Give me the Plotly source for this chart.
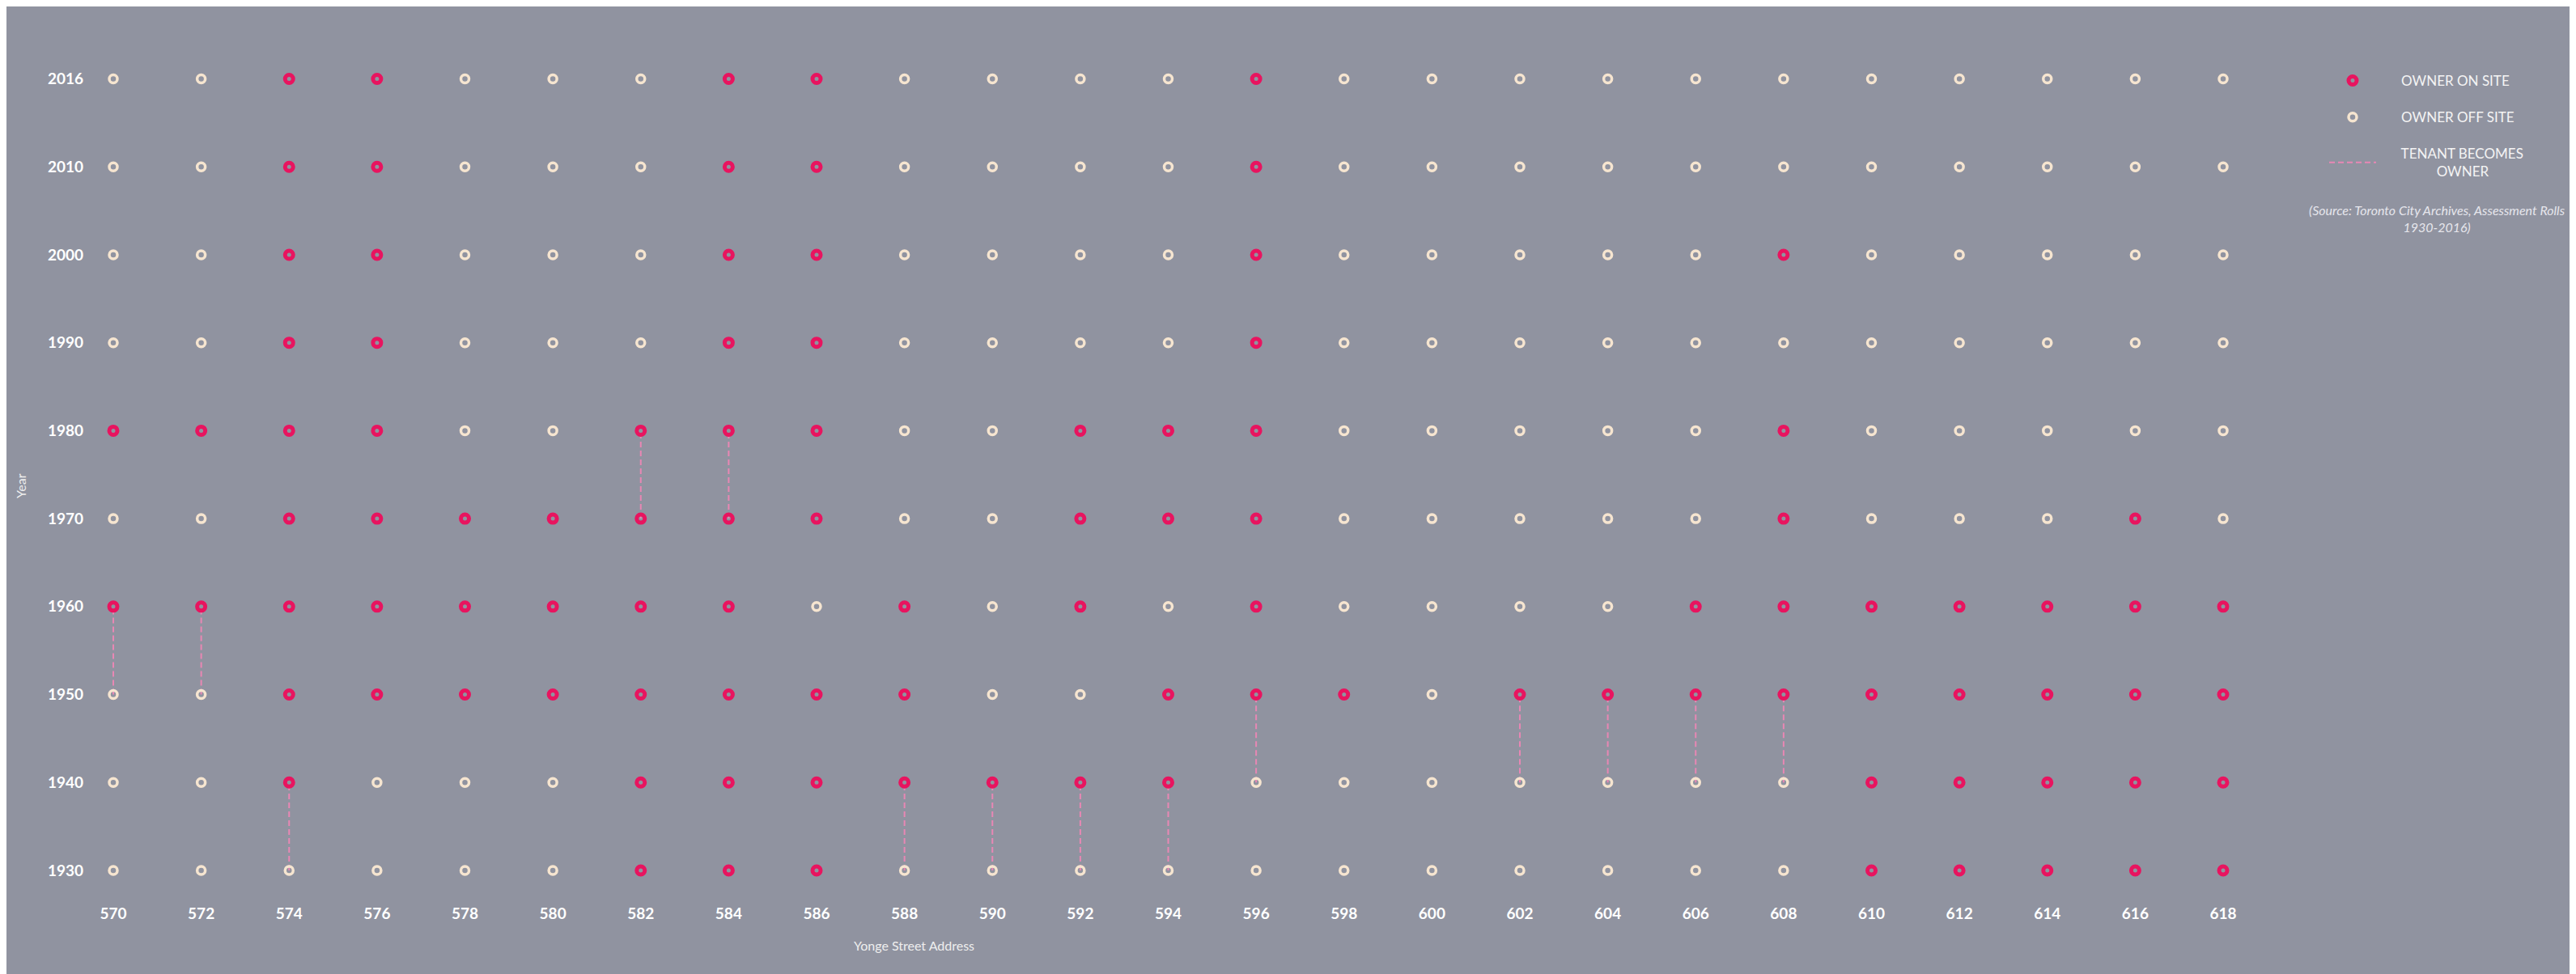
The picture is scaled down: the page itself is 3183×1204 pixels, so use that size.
import plotly.graph_objects as go

# Yonge Street addresses (x categories) and assessment years (y categories)
addresses = [570, 572, 574, 576, 578, 580, 582, 584, 586, 588, 590, 592, 594,
             596, 598, 600, 602, 604, 606, 608, 610, 612, 614, 616, 618]
years = ["1930", "1940", "1950", "1960", "1970", "1980", "1990", "2000", "2010", "2016"]

# 1 = owner on site, 0 = owner off site (one list per year, in address order)
on_site_1930 = [0, 0, 0, 0, 0, 0, 1, 1, 1, 0, 0, 0, 0, 0, 0, 0, 0, 0, 0, 0, 1, 1, 1, 1, 1]
on_site_1940 = [0, 0, 1, 0, 0, 0, 1, 1, 1, 1, 1, 1, 1, 0, 0, 0, 0, 0, 0, 0, 1, 1, 1, 1, 1]
on_site_1950 = [0, 0, 1, 1, 1, 1, 1, 1, 1, 1, 0, 0, 1, 1, 1, 0, 1, 1, 1, 1, 1, 1, 1, 1, 1]
on_site_1960 = [1, 1, 1, 1, 1, 1, 1, 1, 0, 1, 0, 1, 0, 1, 0, 0, 0, 0, 1, 1, 1, 1, 1, 1, 1]
on_site_1970 = [0, 0, 1, 1, 1, 1, 1, 1, 1, 0, 0, 1, 1, 1, 0, 0, 0, 0, 0, 1, 0, 0, 0, 1, 0]
on_site_1980 = [1, 1, 1, 1, 0, 0, 1, 1, 1, 0, 0, 1, 1, 1, 0, 0, 0, 0, 0, 1, 0, 0, 0, 0, 0]
on_site_1990 = [0, 0, 1, 1, 0, 0, 0, 1, 1, 0, 0, 0, 0, 1, 0, 0, 0, 0, 0, 0, 0, 0, 0, 0, 0]
on_site_2000 = [0, 0, 1, 1, 0, 0, 0, 1, 1, 0, 0, 0, 0, 1, 0, 0, 0, 0, 0, 1, 0, 0, 0, 0, 0]
on_site_2010 = [0, 0, 1, 1, 0, 0, 0, 1, 1, 0, 0, 0, 0, 1, 0, 0, 0, 0, 0, 0, 0, 0, 0, 0, 0]
on_site_2016 = [0, 0, 1, 1, 0, 0, 0, 1, 1, 0, 0, 0, 0, 1, 0, 0, 0, 0, 0, 0, 0, 0, 0, 0, 0]

# tenant becomes owner: (address, from year, to year)
tenant_becomes_owner = [
    (570, "1950", "1960"), (572, "1950", "1960"), (574, "1930", "1940"),
    (582, "1970", "1980"), (584, "1970", "1980"), (588, "1930", "1940"),
    (590, "1930", "1940"), (592, "1930", "1940"), (594, "1930", "1940"),
    (596, "1940", "1950"), (602, "1940", "1950"), (604, "1940", "1950"),
    (606, "1940", "1950"), (608, "1940", "1950"),
]

status = {
    "1930": on_site_1930, "1940": on_site_1940, "1950": on_site_1950,
    "1960": on_site_1960, "1970": on_site_1970, "1980": on_site_1980,
    "1990": on_site_1990, "2000": on_site_2000, "2010": on_site_2010,
    "2016": on_site_2016,
}

BG = "#9093a0"
PINK = "#e8145f"
CREAM = "#f6e5d0"
DASH_PINK = "#e887b4"
FONT = "Lato"
NB = "\u00a0"  # pads legend labels away from the symbols

# the page body adds an 8px margin, so work in page pixels and shift
OFF = 8
W, H = 3183 - OFF, 1204 - OFF
L, R, T, B = 112 - OFF, 383, 60 - OFF, 104
plot_w = W - L - R
plot_h = H - T - B

on_x, on_y, off_x, off_y = [], [], [], []
for yr in years:
    for a, s in zip(addresses, status[yr]):
        if s:
            on_x.append(a)
            on_y.append(yr)
        else:
            off_x.append(a)
            off_y.append(yr)

line_x, line_y = [], []
for a, y0, y1 in tenant_becomes_owner:
    line_x += [a, a, None]
    line_y += [y0, y1, None]

fig = go.Figure()

fig.add_trace(go.Scatter(
    x=line_x, y=line_y, mode="lines",
    name=NB * 6 + "TENANT BECOMES<br>" + NB * 16 + "OWNER",
    legendrank=3, legendgroup="c",
    line=dict(color=DASH_PINK, width=2, dash="7px,4px"),
    hoverinfo="skip",
))
fig.add_trace(go.Scatter(
    x=on_x, y=on_y, mode="markers",
    name=NB * 6 + "OWNER ON SITE", legendrank=1, legendgroup="a",
    marker=dict(symbol="circle-open", size=10, color=PINK, line=dict(width=5, color=PINK)),
))
fig.add_trace(go.Scatter(
    x=off_x, y=off_y, mode="markers",
    name=NB * 6 + "OWNER OFF SITE", legendrank=2, legendgroup="b",
    marker=dict(symbol="circle-open", size=10, color=CREAM, line=dict(width=3.5, color=CREAM)),
))

# page pixel -> paper helpers for the free-standing texts
def px_x(p):
    return (p - OFF - L) / plot_w

def px_y(p):
    return 1 - (p - OFF - T) / plot_h

x_first, x_last = 140 - OFF, 2747 - OFF
y_top, y_bot = 97.5 - OFF, 1076 - OFF
px_per_x = (x_last - x_first) / (addresses[-1] - addresses[0])
px_per_y = (y_bot - y_top) / (len(years) - 1)

fig.update_layout(
    width=W, height=H,
    margin=dict(l=L, r=R, t=T, b=B, autoexpand=False),
    paper_bgcolor=BG, plot_bgcolor=BG,
    font=dict(family=FONT, color="#ffffff"),
    xaxis=dict(
        range=[addresses[0] - (x_first - L) / px_per_x,
               addresses[-1] + (W - R - x_last) / px_per_x],
        tickvals=addresses, ticktext=[str(a) for a in addresses],
        showgrid=False, zeroline=False, showline=False, ticks="",
        ticklabelstandoff=16,
        tickfont=dict(family=FONT, size=19, color="#ffffff", weight="bold"),
    ),
    yaxis=dict(
        type="category", categoryorder="array", categoryarray=years,
        range=[-(H - B - y_bot) / px_per_y, len(years) - 1 + (y_top - T) / px_per_y],
        showgrid=False, zeroline=False, showline=False, ticks="",
        ticklabelstandoff=8,
        tickfont=dict(family=FONT, size=19, color="#ffffff", weight="bold"),
    ),
    showlegend=True,
    legend=dict(
        x=px_x(2873), y=px_y(82), xanchor="left", yanchor="top",
        bgcolor="rgba(0,0,0,0)", itemwidth=58, tracegroupgap=20,
        font=dict(family=FONT, size=17, color="#f4f4f4"),
        itemclick=False, itemdoubleclick=False,
    ),
    annotations=[
        dict(text="Year", x=px_x(25), y=px_y(600), xref="paper", yref="paper",
             xanchor="center", yanchor="middle",
             textangle=-90, showarrow=False, font=dict(family=FONT, size=16, color="#eeeeee")),
        dict(text="Yonge Street Address", x=px_x(1129), y=px_y(1168), xref="paper", yref="paper",
             xanchor="center", yanchor="middle",
             showarrow=False, font=dict(family=FONT, size=16, color="#eeeeee")),
        dict(text="<i>(Source: Toronto City Archives, Assessment Rolls<br>1930-2016)</i>",
             x=px_x(3011), y=px_y(270), xref="paper", yref="paper", showarrow=False,
             xanchor="center", yanchor="middle",
             align="center", font=dict(family=FONT, size=16, color="#e6e6ec")),
    ],
)

fig.write_html("out.html")
